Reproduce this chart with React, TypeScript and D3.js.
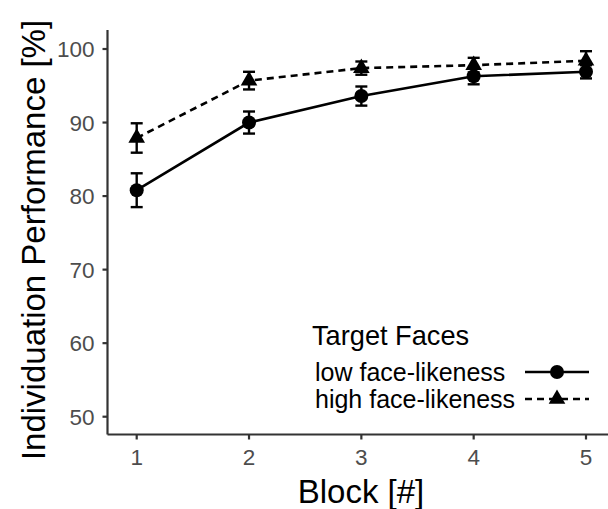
import React from "react";
import * as d3 from "d3";

const blocks = [1, 2, 3, 4, 5];
const lowMean = [80.8, 90.0, 93.6, 96.3, 96.9];
const lowErr = [2.3, 1.5, 1.3, 1.1, 0.9];
const highMean = [87.9, 95.7, 97.4, 97.8, 98.4];
const highErr = [2.0, 1.2, 0.9, 1.0, 1.3];
const yTicks = [50, 60, 70, 80, 90, 100];
const seriesNames = ["low face-likeness", "high face-likeness"];
const legendTitle = "Target Faces";
const xTitle = "Block [#]";
const yTitle = "Individuation Performance [%]";

const W = 608;
const H = 509;
const FONT = "'Liberation Sans', Arial, Helvetica, sans-serif";

export default function App() {
  const x = d3.scaleLinear().domain([1, 5]).range([136.7, 586]);
  const y = d3.scaleLinear().domain([50, 100]).range([416.7, 49]);
  const axisX = 107.5;
  const axisY = 434.5;
  const yTop = y(102.6);

  const line = d3
    .line<number>()
    .x((_, i) => x(blocks[i]))
    .y((d) => y(d));

  const tri = d3.symbol().type(d3.symbolTriangle).size(120)() as string;
  const series = [
    { mean: lowMean, err: lowErr, dash: undefined as string | undefined, shape: "circle" },
    { mean: highMean, err: highErr, dash: "7,5", shape: "triangle" },
  ];

  const capHalf = 6;

  return (
    <svg width={W} height={H} style={{ position: "absolute", left: 0, top: 0, background: "#fff" }}>
      <rect width={W} height={H} fill="#fff" />
      {/* axes */}
      <line x1={axisX} x2={axisX} y1={yTop} y2={axisY} stroke="#333" strokeWidth={2.2} />
      <line x1={axisX} x2={W + 10} y1={axisY} y2={axisY} stroke="#333" strokeWidth={2.2} />
      {yTicks.map((t) => (
        <g key={t}>
          <line x1={axisX - 5} x2={axisX} y1={y(t)} y2={y(t)} stroke="#333" strokeWidth={2.2} />
          <text
            x={axisX - 13}
            y={y(t)}
            dy="0.36em"
            textAnchor="end"
            fontFamily={FONT}
            fontSize={22.5}
            fill="#4d4d4d"
          >
            {t}
          </text>
        </g>
      ))}
      {blocks.map((b) => (
        <g key={b}>
          <line x1={x(b)} x2={x(b)} y1={axisY} y2={axisY + 5} stroke="#333" strokeWidth={2.2} />
          <text
            x={x(b)}
            y={456.7}
            dy="0.36em"
            textAnchor="middle"
            fontFamily={FONT}
            fontSize={22.5}
            fill="#4d4d4d"
          >
            {b}
          </text>
        </g>
      ))}
      <text x={361} y={503} textAnchor="middle" fontFamily={FONT} fontSize={33} fill="#000">
        {xTitle}
      </text>
      <text
        transform={`translate(45, 240) rotate(-90)`}
        textAnchor="middle"
        fontFamily={FONT}
        fontSize={33}
        fill="#000"
      >
        {yTitle}
      </text>

      {/* series */}
      {series.map((s, si) => (
        <g key={si}>
          {s.mean.map((m, i) => (
            <g key={i} stroke="#000" strokeWidth={2.4}>
              <line x1={x(blocks[i])} x2={x(blocks[i])} y1={y(m - s.err[i])} y2={y(m + s.err[i])} />
              <line x1={x(blocks[i]) - capHalf} x2={x(blocks[i]) + capHalf} y1={y(m + s.err[i])} y2={y(m + s.err[i])} />
              <line x1={x(blocks[i]) - capHalf} x2={x(blocks[i]) + capHalf} y1={y(m - s.err[i])} y2={y(m - s.err[i])} />
            </g>
          ))}
          <path d={line(s.mean) || ""} fill="none" stroke="#000" strokeWidth={2.6} strokeDasharray={s.dash} />
          {s.mean.map((m, i) =>
            s.shape === "circle" ? (
              <circle key={i} cx={x(blocks[i])} cy={y(m)} r={7} fill="#000" />
            ) : (
              <path key={i} d={tri} transform={`translate(${x(blocks[i])},${y(m)})`} fill="#000" />
            )
          )}
        </g>
      ))}

      {/* legend */}
      <text x={312} y={335} dy="0.36em" fontFamily={FONT} fontSize={27.2} fill="#000">
        {legendTitle}
      </text>
      {seriesNames.map((n, i) => {
        const cy = 372 + i * 27;
        return (
          <g key={n}>
            <text x={315} y={cy} dy="0.36em" fontFamily={FONT} fontSize={25} fill="#000">
              {n}
            </text>
            <line x1={525} x2={589} y1={cy} y2={cy} stroke="#000" strokeWidth={2.6} strokeDasharray={series[i].dash} />
            {series[i].shape === "circle" ? (
              <circle cx={557} cy={cy} r={7} fill="#000" />
            ) : (
              <path d={tri} transform={`translate(557,${cy})`} fill="#000" />
            )}
          </g>
        );
      })}
    </svg>
  );
}
